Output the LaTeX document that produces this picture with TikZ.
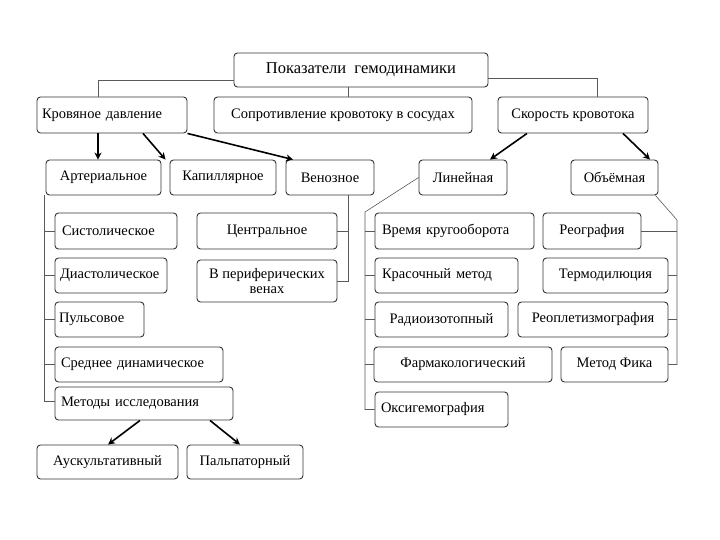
\documentclass[tikz,border=0pt]{standalone}
\usepackage{fontspec}
\setmainfont{Liberation Serif}
\usetikzlibrary{arrows.meta}
\begin{document}
\begin{tikzpicture}[x=1pt,y=-1pt,
  bx/.style={draw=black!80, line width=0.9pt, rounded corners=3.5pt, inner sep=0pt, align=center, font=\fontsize{14.5}{16}\selectfont},
  conn/.style={draw=black!65, line width=0.6pt},
  arr/.style={draw=black, line width=1.6pt, -{Stealth[length=7pt,width=7pt]}}]
\useasboundingbox (0,0) rectangle (720,540);
% top level
\node[bx, minimum width=254, minimum height=34, font=\fontsize{16.5}{18}\selectfont] (title) at (361,70) {Показатели\ \ гемодинамики};
\node[bx, minimum width=150, minimum height=36, text width=140, align=left] (kd) at (112,115) {Кровяное давление};
\node[bx, minimum width=258, minimum height=36] (sopr) at (343,115) {Сопротивление кровотоку в сосудах};
\node[bx, minimum width=150, minimum height=36] (skor) at (573,115) {Скорость кровотока};
% second level
\node[bx, minimum width=115, minimum height=35] (art) at (103.5,177.5) {Артериальное};
\node[bx, minimum width=106, minimum height=35] (kap) at (223,177.5) {Капиллярное};
\node[bx, minimum width=88, minimum height=35] (ven) at (330,177.5) {Венозное};
\node[bx, minimum width=88, minimum height=35] (lin) at (463,177.5) {Линейная};
\node[bx, minimum width=87, minimum height=35] (obj) at (614.5,177.5) {Объёмная};
% arterial
\node[bx, minimum width=122, minimum height=36, text width=108, align=left] (sist) at (116,231) {Систолическое};
\node[bx, minimum width=112, minimum height=35, text width=102, align=left] (diast) at (111,275.5) {Диастолическое};
\node[bx, minimum width=89, minimum height=35, text width=81, align=left] (puls) at (99.5,319.5) {Пульсовое};
\node[bx, minimum width=168, minimum height=35, text width=156, align=left] (sred) at (139,364.5) {Среднее динамическое};
\node[bx, minimum width=178, minimum height=33, text width=166, align=left] (met) at (144,403.5) {Методы исследования};
\node[bx, minimum width=141, minimum height=34] (ausk) at (107.5,462) {Аускультативный};
\node[bx, minimum width=116, minimum height=34] (palp) at (245,462) {Пальпаторный};
% venous
\node[bx, minimum width=140, minimum height=36] (centr) at (267,231) {Центральное};
\node[bx, minimum width=140, minimum height=42, font=\fontsize{14.5}{15}\selectfont] (periph) at (267,281) {В периферических\\венах};
% linear
\node[bx, minimum width=159, minimum height=36, text width=145, align=left] (vremya) at (454.5,231) {Время кругооборота};
\node[bx, minimum width=143, minimum height=35, text width=129, align=left] (kras) at (446.5,275.5) {Красочный метод};
\node[bx, minimum width=133, minimum height=35] (radio) at (441.5,319.5) {Радиоизотопный};
\node[bx, minimum width=178, minimum height=35] (farm) at (463,364.5) {Фармакологический};
\node[bx, minimum width=133, minimum height=35, text width=121, align=left] (oksi) at (441.5,409.5) {Оксигемография};
% volumetric
\node[bx, minimum width=98, minimum height=36] (reogr) at (592,231) {Реография};
\node[bx, minimum width=125, minimum height=35] (termo) at (605.5,275.5) {Термодилюция};
\node[bx, minimum width=150, minimum height=35] (reopl) at (593,319.5) {Реоплетизмография};
\node[bx, minimum width=107, minimum height=35] (fik) at (614.5,364.5) {Метод Фика};
% top connectors
\draw[conn] ([yshift=-10]title.west) -| ([xshift=-14]kd.north);
\draw[conn] ([yshift=-8]title.east) -| ([xshift=24]skor.north);
\draw[conn] ([xshift=-13]title.south) -- ([xshift=5]sopr.north);
% arrows
\draw[arr] ([xshift=-14]kd.south) -- ([xshift=-5.5]art.north);
\draw[arr] ([xshift=31]kd.south) -- ([xshift=-4]kap.north west);
\draw[arr] (kd.south east) -- ([xshift=-37]ven.north);
\draw[arr] ([xshift=-46]skor.south) -- ([xshift=27]lin.north);
\draw[arr] ([xshift=50]skor.south) -- ([xshift=35.5]obj.north);
\draw[arr] ([xshift=-4]met.south) -- ([xshift=0.5]ausk.north);
\draw[arr] ([xshift=66]met.south) -- ([xshift=-5]palp.north);
% arterial bracket
\coordinate (ab) at ([xshift=-1]art.south west);
\draw[conn] (ab) |- ([yshift=2]met.west);
\foreach \n in {sist,diast,puls,sred} \draw[conn] (\n.west) -- (\n.west -| ab);
% venous bracket
\coordinate (vb) at ([xshift=18]ven.south);
\draw[conn] (vb) |- (periph.east);
\draw[conn] (centr.east) -- (centr.east -| vb);
% linear bracket
\coordinate (lb) at (365,212);
\draw[conn] (lin.west) -- (lb) |- (oksi.west);
\foreach \n in {vremya,kras,radio,farm} \draw[conn] (\n.west) -- (\n.west -| lb);
% volumetric bracket
\coordinate (ob) at (677,220);
\draw[conn] ([xshift=-3]obj.south east) -- (ob) |- (fik.east);
\foreach \n in {reogr,termo,reopl} \draw[conn] (\n.east) -- (\n.east -| ob);
\end{tikzpicture}
\end{document}
